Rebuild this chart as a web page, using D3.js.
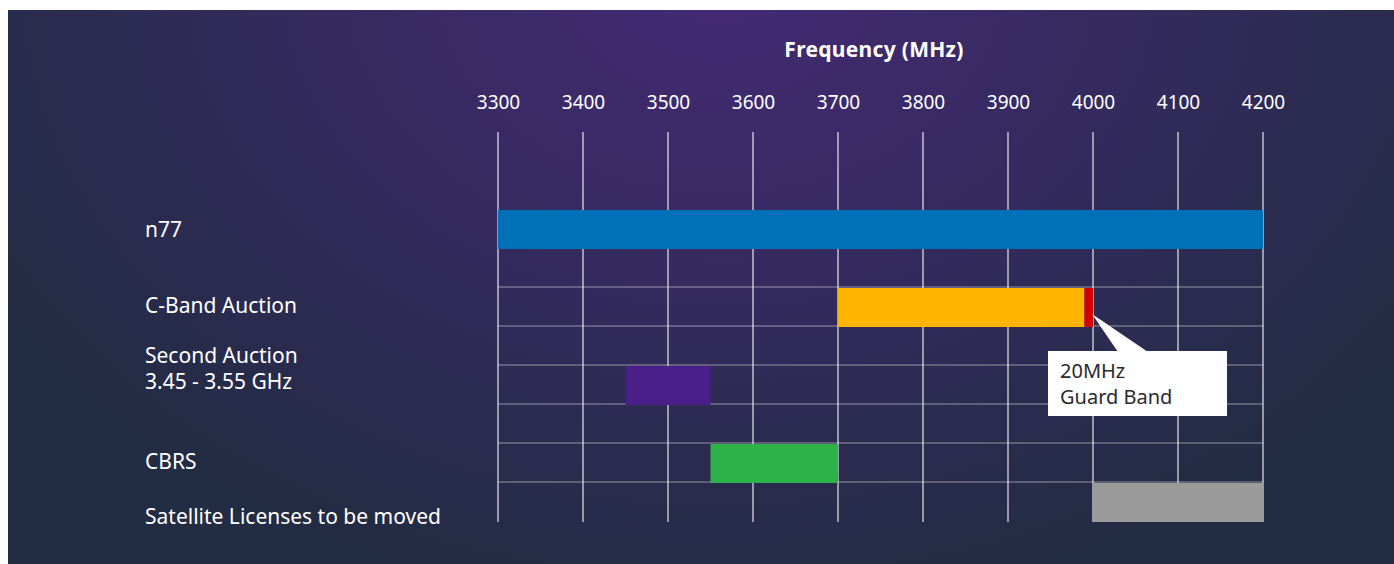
<!DOCTYPE html>
<html>
<head>
<meta charset="utf-8">
<script src="https://cdn.jsdelivr.net/npm/d3@7"></script>
<style>
  body { margin: 0; background: #fff; }
  svg { display: block; font-family: "Noto Sans", "Open Sans", sans-serif; }
</style>
</head>
<body>
<svg id="chart" width="1394" height="564"></svg>
<script>
// band data (MHz)
const categories = ["n77", "C-Band Auction", "Second Auction", "CBRS", "Satellite Licenses to be moved"];
const labelLines = [["n77"], ["C-Band Auction"], ["Second Auction", "3.45 - 3.55 GHz"], ["CBRS"], ["Satellite Licenses to be moved"]];
const rowIndex = [2, 4, 6, 8, 9];
const bandStart = [3300, 3700, 3450, 3550, 4000];
const bandEnd = [4200, 3990, 3550, 3700, 4200];
const bandColor = ["#0070b8", "#ffb400", "#4a1f8a", "#2db34a", "#9b9b9b"];
const guardBand = {row: 4, start: 3990, end: 4000, label: ["20MHz", "Guard Band"]};
const tickValues = [3300, 3400, 3500, 3600, 3700, 3800, 3900, 4000, 4100, 4200];
const gridRows = [4, 5, 6, 7, 8, 9];

const W = 1394, H = 564;
const svg = d3.select("#chart");

// background
const defs = svg.append("defs");
const grad = defs.append("radialGradient")
    .attr("id", "bg")
    .attr("gradientUnits", "userSpaceOnUse")
    .attr("cx", 720).attr("cy", -20).attr("r", 850)
    .attr("gradientTransform", "translate(720,-20) scale(1,0.75) translate(-720,20)");
grad.append("stop").attr("offset", "0%").attr("stop-color", "#452a74");
grad.append("stop").attr("offset", "45%").attr("stop-color", "#352a60");
grad.append("stop").attr("offset", "100%").attr("stop-color", "#222c42");
svg.append("rect").attr("x", 8).attr("y", 10).attr("width", W - 8).attr("height", H - 10)
    .attr("fill", "url(#bg)");

const x = d3.scaleLinear().domain([3300, 4200]).range([498, 1263]);
const y = d3.scaleLinear().domain([0, 10]).range([132, 522]);
const rowH = y(1) - y(0);

// title
svg.append("text")
    .attr("x", 874).attr("y", 57)
    .attr("text-anchor", "middle")
    .attr("fill", "#fff")
    .style("font-size", "21px").style("font-weight", "bold")
    .style("letter-spacing", "0.3px")
    .text("Frequency (MHz)");

// axis on top
const axis = svg.append("g")
    .attr("transform", "translate(0,133)")
    .call(d3.axisTop(x).tickValues(tickValues).tickSize(0).tickPadding(24).tickFormat(d3.format("d")));
axis.select(".domain").remove();
axis.selectAll("text").attr("fill", "#fff").style("font-size", "19px").style("font-family", "Noto Sans, sans-serif");

// grid
const grid = svg.append("g");
grid.selectAll("line.v").data(tickValues).join("line")
    .attr("class", "v")
    .attr("x1", d => x(d)).attr("x2", d => x(d))
    .attr("y1", y(0)).attr("y2", y(10))
    .attr("stroke", "#fff").attr("stroke-opacity", 0.7).attr("stroke-width", 1.5);
grid.selectAll("line.h").data(gridRows).join("line")
    .attr("class", "h")
    .attr("x1", x(3300)).attr("x2", x(4200))
    .attr("y1", d => y(d) - 1).attr("y2", d => y(d) - 1)
    .attr("stroke", "#fff").attr("stroke-opacity", 0.25).attr("stroke-width", 2);

// bars
svg.append("g").selectAll("rect").data(categories).join("rect")
    .attr("x", (d, i) => x(bandStart[i]))
    .attr("y", (d, i) => y(rowIndex[i]))
    .attr("width", (d, i) => x(bandEnd[i]) - x(bandStart[i]))
    .attr("height", rowH)
    .attr("fill", (d, i) => bandColor[i]);

svg.append("rect")
    .attr("x", x(guardBand.start)).attr("y", y(guardBand.row))
    .attr("width", x(guardBand.end) - x(guardBand.start)).attr("height", rowH)
    .attr("fill", "#d40000");

// row labels (one text per line)
const labelOffset = [0, -2, -30, -2, 14];
const labels = svg.append("g");
labelLines.forEach((lines, i) => {
    const cy = y(rowIndex[i]) + rowH / 2 + labelOffset[i];
    lines.forEach((l, j) => {
        labels.append("text")
            .attr("x", 145)
            .attr("y", cy + 7 + j * 26)
            .attr("fill", "#fff")
            .style("font-size", "21px")
            .text(l);
    });
});

// callout for the guard band
const tipX = x(guardBand.end) - 1, tipY = y(guardBand.row) + 26;
const boxX = 1048, boxY = 351, boxW = 179, boxH = 65;
const call = svg.append("g");
call.append("path")
    .attr("d", `M${tipX},${tipY} L${1148},${boxY + 1} L${1118},${boxY + 1} Z`)
    .attr("fill", "#fff");
call.append("rect")
    .attr("x", boxX).attr("y", boxY).attr("width", boxW).attr("height", boxH)
    .attr("fill", "#fff");
guardBand.label.forEach((l, j) => {
    call.append("text")
        .attr("x", boxX + 12).attr("y", boxY + 27 + j * 26)
        .attr("fill", "#2a2a2a")
        .style("font-size", "20px")
        .text(l);
});
</script>
</body>
</html>
